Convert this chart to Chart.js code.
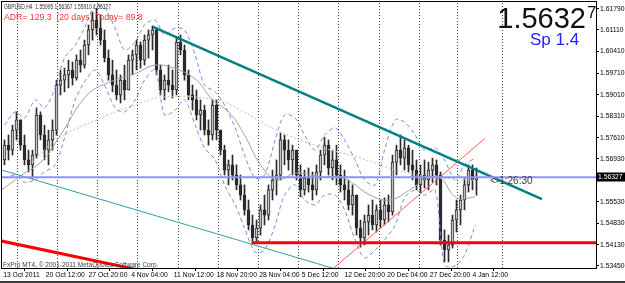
<!DOCTYPE html>
<html>
<head>
<meta charset="utf-8">
<script src="https://cdn.jsdelivr.net/npm/chart.js@4.4.1/dist/chart.umd.min.js"></script>
<style>
  html, body { margin: 0; padding: 0; background: #fff; }
  canvas { display: block; }
</style>
</head>
<body>
<canvas id="chart" width="625" height="283"></canvas>
<script>
// GBPUSD H4 - candles are grouped by 3 H4 bars, x axis is in H4 bar numbers

// Axis labels
const xLabels = ["13 Oct 2011", "20 Oct 12:00", "27 Oct 20:00", "4 Nov 04:00", "11 Nov 12:00", "18 Nov 20:00",
    "28 Nov 04:00", "5 Dec 12:00", "12 Dec 20:00", "20 Dec 04:00", "27 Dec 20:00", "4 Jan 12:00"];
const labelBars = [0, 32, 64, 96, 128, 160, 192, 224, 256, 288, 320, 352];
const weekBars = [10.75, 40.75, 70.75, 100.75, 131.5, 161.5, 191.5, 221.5, 251.5, 282.25, 312.25, 340.75, 374.5];
const yTicks = [1.6179, 1.6111, 1.6041, 1.5971, 1.5901, 1.5831, 1.5761, 1.5693, 1.5553, 1.5483, 1.5413, 1.5345];

// Candles
const open = [1.5689, 1.5737, 1.5721, 1.5786, 1.5819, 1.5737, 1.5689, 1.5673, 1.5705, 1.5835,
    1.5770, 1.5721, 1.5754, 1.5786, 1.5932, 1.5948, 1.5965, 1.5981, 1.5955, 1.6013,
    1.5997, 1.6062, 1.6111, 1.6143, 1.6117, 1.6078, 1.6020, 1.5965, 1.5932, 1.5900,
    1.5948, 1.5916, 1.6013, 1.6030, 1.6062, 1.6013, 1.6078, 1.6095, 1.6111, 1.5981,
    1.5916, 1.5948, 1.5932, 1.5916, 1.6072, 1.6046, 1.5965, 1.5900, 1.5884, 1.5835,
    1.5851, 1.5786, 1.5770, 1.5867, 1.5786, 1.5721, 1.5656, 1.5673, 1.5640, 1.5608,
    1.5575, 1.5527, 1.5478, 1.5436, 1.5468, 1.5527, 1.5510, 1.5592, 1.5624, 1.5640,
    1.5754, 1.5721, 1.5689, 1.5721, 1.5640, 1.5592, 1.5630, 1.5608, 1.5592, 1.5650,
    1.5705, 1.5737, 1.5663, 1.5689, 1.5640, 1.5608, 1.5592, 1.5543, 1.5575, 1.5468,
    1.5436, 1.5488, 1.5510, 1.5478, 1.5527, 1.5494, 1.5543, 1.5520, 1.5682, 1.5721,
    1.5695, 1.5728, 1.5673, 1.5656, 1.5608, 1.5640, 1.5624, 1.5656, 1.5673, 1.5640,
    1.5429, 1.5397, 1.5413, 1.5494, 1.5527, 1.5559, 1.5608, 1.5656, 1.5624];
const high = [1.5754, 1.5770, 1.5802, 1.5845, 1.5819, 1.5770, 1.5721, 1.5721, 1.5858, 1.5845,
    1.5802, 1.5786, 1.5819, 1.5948, 1.5981, 1.5987, 1.6013, 1.6007, 1.6030, 1.6046,
    1.6078, 1.6127, 1.6169, 1.6182, 1.6160, 1.6111, 1.6046, 1.6013, 1.5981, 1.5965,
    1.5997, 1.6030, 1.6046, 1.6078, 1.6072, 1.6095, 1.6111, 1.6124, 1.6117, 1.5997,
    1.5965, 1.5997, 1.5981, 1.6088, 1.6095, 1.6062, 1.5981, 1.5932, 1.5916, 1.5884,
    1.5867, 1.5819, 1.5884, 1.5884, 1.5786, 1.5737, 1.5689, 1.5705, 1.5673, 1.5640,
    1.5608, 1.5559, 1.5510, 1.5494, 1.5543, 1.5575, 1.5608, 1.5656, 1.5689, 1.5776,
    1.5770, 1.5754, 1.5737, 1.5721, 1.5673, 1.5656, 1.5663, 1.5650, 1.5673, 1.5721,
    1.5763, 1.5754, 1.5721, 1.5737, 1.5673, 1.5656, 1.5624, 1.5608, 1.5575, 1.5494,
    1.5510, 1.5543, 1.5559, 1.5543, 1.5559, 1.5566, 1.5575, 1.5705, 1.5737, 1.5770,
    1.5754, 1.5737, 1.5721, 1.5689, 1.5673, 1.5689, 1.5682, 1.5695, 1.5689, 1.5650,
    1.5462, 1.5445, 1.5510, 1.5559, 1.5575, 1.5630, 1.5673, 1.5673, 1.5663];
const low = [1.5673, 1.5689, 1.5705, 1.5754, 1.5721, 1.5673, 1.5650, 1.5630, 1.5695, 1.5754,
    1.5689, 1.5673, 1.5721, 1.5770, 1.5900, 1.5910, 1.5923, 1.5932, 1.5948, 1.5974,
    1.5987, 1.6030, 1.6078, 1.6095, 1.6062, 1.6007, 1.5948, 1.5910, 1.5884, 1.5874,
    1.5884, 1.5916, 1.5965, 1.5981, 1.5987, 1.5997, 1.6020, 1.6046, 1.5965, 1.5900,
    1.5884, 1.5910, 1.5890, 1.5900, 1.6030, 1.5948, 1.5884, 1.5851, 1.5819, 1.5786,
    1.5770, 1.5737, 1.5754, 1.5754, 1.5705, 1.5640, 1.5608, 1.5624, 1.5592, 1.5559,
    1.5510, 1.5462, 1.5419, 1.5419, 1.5445, 1.5478, 1.5494, 1.5559, 1.5575, 1.5624,
    1.5673, 1.5656, 1.5640, 1.5624, 1.5569, 1.5575, 1.5585, 1.5559, 1.5575, 1.5624,
    1.5673, 1.5640, 1.5624, 1.5608, 1.5585, 1.5559, 1.5527, 1.5510, 1.5445, 1.5406,
    1.5413, 1.5445, 1.5462, 1.5455, 1.5468, 1.5478, 1.5488, 1.5510, 1.5640, 1.5673,
    1.5656, 1.5650, 1.5624, 1.5592, 1.5582, 1.5598, 1.5592, 1.5617, 1.5608, 1.5413,
    1.5358, 1.5358, 1.5403, 1.5455, 1.5478, 1.5527, 1.5585, 1.5592, 1.5575];
const close = [1.5737, 1.5721, 1.5786, 1.5819, 1.5737, 1.5689, 1.5673, 1.5705, 1.5835, 1.5770,
    1.5721, 1.5754, 1.5786, 1.5932, 1.5948, 1.5965, 1.5981, 1.5955, 1.6013, 1.5997,
    1.6062, 1.6111, 1.6143, 1.6117, 1.6078, 1.6020, 1.5965, 1.5932, 1.5900, 1.5948,
    1.5916, 1.6013, 1.6030, 1.6062, 1.6013, 1.6078, 1.6095, 1.6111, 1.5981, 1.5916,
    1.5948, 1.5932, 1.5916, 1.6072, 1.6046, 1.5965, 1.5900, 1.5884, 1.5835, 1.5851,
    1.5786, 1.5770, 1.5867, 1.5786, 1.5721, 1.5656, 1.5673, 1.5640, 1.5608, 1.5575,
    1.5527, 1.5478, 1.5436, 1.5468, 1.5527, 1.5510, 1.5592, 1.5624, 1.5640, 1.5754,
    1.5721, 1.5689, 1.5721, 1.5640, 1.5592, 1.5630, 1.5608, 1.5592, 1.5650, 1.5705,
    1.5737, 1.5663, 1.5689, 1.5640, 1.5608, 1.5592, 1.5543, 1.5575, 1.5468, 1.5436,
    1.5488, 1.5510, 1.5478, 1.5527, 1.5494, 1.5543, 1.5520, 1.5682, 1.5721, 1.5695,
    1.5728, 1.5673, 1.5656, 1.5608, 1.5640, 1.5624, 1.5656, 1.5673, 1.5640, 1.5429,
    1.5397, 1.5413, 1.5494, 1.5527, 1.5559, 1.5608, 1.5656, 1.5624, 1.56327];
const lastPrice = 1.56327;

// Moving averages
const maBars = [-1, 13, 30, 43, 63, 80, 100, 114, 130, 145, 157, 170, 181, 193, 205, 220, 238, 253, 262, 275, 290, 305, 318, 328, 340, 354];
const maValues = [1.5592, 1.5637, 1.5689, 1.5770, 1.5900, 1.5942, 1.5971, 1.5997, 1.5984, 1.5948, 1.5884, 1.5841, 1.5770,
    1.5673, 1.5624, 1.5647, 1.5634, 1.5634, 1.5614, 1.5575, 1.5559, 1.5592, 1.5630, 1.5630, 1.5566, 1.5569];
const slowBars = [20, 40, 73, 95, 120, 160, 178, 205, 238, 265, 295, 320, 354];
const slowValues = [1.5673, 1.5754, 1.5825, 1.5861, 1.5893, 1.5884, 1.5851, 1.5786, 1.5731, 1.5699, 1.5656, 1.5634, 1.5624];

// Bands
const bandBars = [1, 9, 16, 24, 31, 39, 46, 54, 61, 69, 76, 84, 91, 99, 106, 114, 121, 129, 136, 144, 151, 159, 166, 174,
    181, 189, 196, 204, 211, 219, 226, 234, 241, 249, 256, 264, 271, 279, 286, 294, 301, 309, 316, 324, 331, 339, 346, 354];
const bandUpper = [1.5802, 1.5845, 1.5825, 1.5884, 1.5858, 1.5923, 1.6020, 1.6062, 1.6117, 1.6192, 1.6182, 1.6117,
    1.6046, 1.6072, 1.6127, 1.6143, 1.6095, 1.6117, 1.6111, 1.6030, 1.5932, 1.5910, 1.5867, 1.5793,
    1.5705, 1.5630, 1.5640, 1.5754, 1.5835, 1.5825, 1.5770, 1.5721, 1.5770, 1.5793, 1.5754, 1.5689,
    1.5624, 1.5608, 1.5721, 1.5819, 1.5812, 1.5770, 1.5721, 1.5728, 1.5689, 1.5624, 1.5673, 1.5695];
const bandLower = [1.5630, 1.5640, 1.5617, 1.5624, 1.5650, 1.5673, 1.5760, 1.5884, 1.5942, 1.5981, 1.5932, 1.5858,
    1.5845, 1.5884, 1.5948, 1.5981, 1.5835, 1.5851, 1.5884, 1.5802, 1.5728, 1.5689, 1.5608, 1.5543,
    1.5468, 1.5390, 1.5397, 1.5478, 1.5575, 1.5608, 1.5559, 1.5543, 1.5575, 1.5575, 1.5527, 1.5429,
    1.5371, 1.5397, 1.5429, 1.5478, 1.5566, 1.5592, 1.5575, 1.5592, 1.5348, 1.5345, 1.5380, 1.5478];

// Trend lines: [bar, price] anchors
const channelTop = [[112.4, 1.6121], [404.1, 1.5562]];
const channelLow = [[-2.4, 1.5658], [258.6, 1.5323]];
const redFall = [[-2.4, 1.5427], [102.6, 1.5331]];
const redRise = [[244.4, 1.5325], [361.4, 1.5759]];
const supportStart = 186.6;
const supportPrice = 1.5420;

const xMin = -0.875, xMax = 444.625;
const yMin = 1.53383, yMax = 1.62017;
const FONT = "'Liberation Sans', Arial, sans-serif";

const candleBars = open.map((_, i) => 3 * i + 1);
const toPoints = (bars, values) => bars.map((b, i) => ({ x: b, y: values[i] }));
const anchors = (pairs) => pairs.map((p) => ({ x: p[0], y: p[1] }));

function lineSet(data, color, width, dash, order, tension) {
    return {
        type: "line",
        data: data,
        borderColor: color,
        borderWidth: width,
        borderDash: dash || [],
        pointRadius: 0,
        fill: false,
        tension: tension || 0,
        order: order,
    };
}

const datasets = [];

// Weekly separators
weekBars.forEach((b) => {
    datasets.push(lineSet([{ x: b, y: yMin }, { x: b, y: yMax }], "#404040", 1, [1, 2], 20));
});

datasets.push({
    type: "bar",
    data: candleBars.map((b, i) => ({ x: b, y: [low[i], high[i]] })),
    backgroundColor: "#2a2a2a",
    barThickness: 1,
    grouped: false,
    order: 9,
});
datasets.push({
    type: "bar",
    data: candleBars.map((b, i) => ({ x: b, y: [open[i], close[i]] })),
    backgroundColor: close.map((c, i) => (c >= open[i] ? "#c4c4c4" : "#2a2a2a")),
    borderColor: "#2a2a2a",
    borderWidth: 1,
    borderSkipped: false,
    barThickness: 3,
    grouped: false,
    order: 8,
});

datasets.push(lineSet(toPoints(slowBars, slowValues), "#c8bfa6", 1, [2, 2], 7, 0.4));
datasets.push(lineSet(toPoints(maBars, maValues), "#a0a0a0", 1, [], 6, 0.4));
datasets.push(lineSet(toPoints(bandBars, bandUpper), "#6890e4", 1, [4, 3], 5, 0.3));
datasets.push(lineSet(toPoints(bandBars, bandLower), "#6890e4", 1, [4, 3], 5, 0.3));

datasets.push(lineSet(anchors(channelLow), "#2aa0a8", 1, [], 4));
datasets.push(lineSet(anchors(redRise), "#ff5a5a", 1, [], 4));
datasets.push(lineSet(anchors(redFall), "#ff0000", 3, [], 3));
datasets.push(lineSet([{ x: supportStart, y: supportPrice }, { x: xMax, y: supportPrice }], "#ff0000", 3, [], 3));
datasets.push(lineSet(anchors(channelTop), "#008080", 2.5, [], 2));
datasets.push(lineSet([{ x: xMin, y: lastPrice }, { x: xMax, y: lastPrice }], "#9090ff", 2, [], 1));

// Texts and frame
const overlay = {
    id: "overlay",
    afterDraw(chart) {
        const { ctx, chartArea: a, scales } = chart;
        ctx.save();

        ctx.strokeStyle = "#000";
        ctx.lineWidth = 1;
        ctx.strokeRect(a.left - 0.5, a.top - 0.5, a.right - a.left + 1, a.bottom - a.top + 1);

        ctx.textBaseline = "alphabetic";
        ctx.textAlign = "left";
        ctx.fillStyle = "#303030";
        ctx.font = "7px " + FONT;
        ctx.fillText("GBPUSD,H4  1.55995 1.56367 1.55910 1.56327", 4, 9, 107);

        ctx.fillStyle = "#ff3030";
        ctx.font = "8.7px " + FONT;
        ctx.fillText("ADR= 129.3  (20 days) Today= 89.8", 4, 20);

        ctx.fillStyle = "#111";
        ctx.font = "29px " + FONT;
        ctx.textAlign = "right";
        ctx.fillText("1.5632", 586, 28);
        ctx.textAlign = "left";
        ctx.font = "17px " + FONT;
        ctx.fillText("7", 587, 18);

        ctx.fillStyle = "#2222ff";
        ctx.font = "17px " + FONT;
        ctx.fillText("Sp 1.4", 530, 45);

        const py = scales.y.getPixelForValue(lastPrice);
        ctx.fillStyle = "#404040";
        ctx.font = "10px " + FONT;
        ctx.textBaseline = "middle";
        ctx.fillText("<-1:26:30", 490, py + 4);

        ctx.fillStyle = "#000";
        ctx.fillRect(a.right + 1, Math.round(py) - 4.5, 625 - a.right, 9);
        ctx.fillStyle = "#fff";
        ctx.font = "6.8px " + FONT;
        ctx.fillText(lastPrice.toFixed(5), a.right + 2, py);

        ctx.textBaseline = "alphabetic";
        ctx.fillStyle = "#404040";
        ctx.font = "6.5px " + FONT;
        ctx.fillText("FxPro MT4, \u00a9 2001-2011 MetaQuotes Software Corp.", 3, 267, 160);

        ctx.fillStyle = "#3a3a3a";
        ctx.fillRect(0, 281, 625, 2);
        ctx.restore();
    },
};

new Chart(document.getElementById("chart"), {
    type: "bar",
    data: { datasets: datasets },
    options: {
        responsive: false,
        animation: false,
        events: [],
        layout: { padding: { left: 2, top: 2, right: 0, bottom: 0 } },
        plugins: {
            legend: { display: false },
            tooltip: { enabled: false },
        },
        scales: {
            x: {
                type: "linear",
                min: xMin,
                max: xMax,
                offset: false,
                afterBuildTicks: (axis) => {
                    axis.ticks = labelBars.map((v) => ({ value: v }));
                },
                afterFit: (axis) => {
                    axis.height = 15;
                    axis.paddingLeft = 0;
                    axis.paddingRight = 0;
                },
                ticks: {
                    autoSkip: false,
                    maxRotation: 0,
                    align: "start",
                    padding: 0,
                    color: "#000",
                    font: { family: FONT, size: 6.8 },
                    callback: (v, i) => xLabels[i],
                },
                grid: { drawOnChartArea: false, drawTicks: true, tickLength: 3, color: "#000" },
                border: { color: "#000" },
            },
            y: {
                position: "right",
                min: yMin,
                max: yMax,
                afterBuildTicks: (axis) => {
                    axis.ticks = yTicks.map((v) => ({ value: v }));
                },
                afterFit: (axis) => {
                    axis.width = 29;
                    axis.paddingTop = 0;
                    axis.paddingBottom = 0;
                },
                ticks: {
                    padding: 1,
                    color: "#000",
                    font: { family: FONT, size: 6.8 },
                    callback: (v) => Number(v).toFixed(5),
                },
                grid: { drawOnChartArea: false, drawTicks: true, tickLength: 3, color: "#000" },
                border: { color: "#000" },
            },
        },
    },
    plugins: [overlay],
});
</script>
</body>
</html>
